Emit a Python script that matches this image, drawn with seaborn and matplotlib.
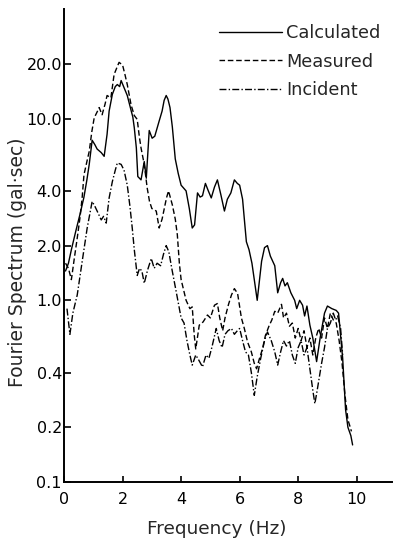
import numpy as np
import pandas as pd
import matplotlib
matplotlib.use("Agg")
import matplotlib.pyplot as plt
import seaborn as sns
from matplotlib.ticker import FixedLocator, FixedFormatter, NullLocator

# ---- data ----
calc_f = [0.05, 0.15, 0.25, 0.4, 0.55, 0.68, 0.78, 0.86, 0.96, 1.05, 1.13, 1.27, 1.37, 1.47, 1.54,
          1.65, 1.75, 1.82, 1.9, 1.95, 2.05, 2.16, 2.29, 2.35, 2.4, 2.47, 2.52, 2.63, 2.74, 2.81,
          2.91, 3.01, 3.1, 3.25, 3.35, 3.42, 3.49, 3.55, 3.62, 3.7, 3.8, 3.9, 4.0, 4.17, 4.28,
          4.38, 4.46, 4.56, 4.65, 4.73, 4.83, 4.93, 5.03, 5.14, 5.24, 5.36, 5.48, 5.58, 5.7, 5.82,
          5.92, 6.0, 6.1, 6.16, 6.23, 6.32, 6.42, 6.5, 6.6, 6.68, 6.75, 6.85, 6.95, 7.05, 7.2,
          7.3, 7.4, 7.47, 7.55, 7.63, 7.75, 7.88, 7.95, 8.05, 8.15, 8.22, 8.3, 8.4, 8.5, 8.63,
          8.75, 8.9, 9.0, 9.15, 9.3, 9.38, 9.52, 9.62, 9.7, 9.8, 9.86]
calc_v = [1.45, 1.6, 1.9, 2.4, 3.0, 3.7, 4.6, 5.6, 7.6, 7.2, 6.8, 6.5, 6.2, 8.2, 11.0,
          13.6, 15.0, 15.4, 15.0, 16.2, 14.8, 13.4, 11.1, 10.2, 8.9, 6.9, 4.8, 4.6, 5.8, 4.7,
          8.6, 7.8, 8.0, 9.7, 11.0, 12.6, 13.4, 12.8, 11.5, 9.0, 6.0, 5.0, 4.3, 4.0, 3.2,
          2.5, 2.6, 3.9, 3.7, 3.76, 4.4, 4.0, 3.66, 4.2, 4.6, 3.8, 3.1, 3.6, 3.9, 4.6,
          4.4, 4.3, 3.6, 2.8, 2.1, 1.9, 1.6, 1.3, 1.0, 1.3, 1.64, 1.95, 2.0, 1.75, 1.55,
          1.1, 1.25, 1.32, 1.2, 1.25, 1.1, 1.0, 0.9, 1.0, 0.94, 0.82, 0.93, 0.73, 0.62, 0.46,
          0.62, 0.85, 0.93, 0.9, 0.88, 0.85, 0.48, 0.25, 0.2, 0.18, 0.16]

meas_f = [0.05, 0.15, 0.25, 0.35, 0.45, 0.55, 0.62, 0.68, 0.78, 0.86, 0.95, 1.03, 1.12, 1.2, 1.3,
          1.4, 1.47, 1.6, 1.71, 1.8, 1.88, 2.0, 2.08, 2.16, 2.29, 2.4, 2.5, 2.57, 2.63, 2.74,
          2.84, 2.92, 3.0, 3.15, 3.25, 3.35, 3.5, 3.57, 3.7, 3.8, 3.87, 3.94, 4.0, 4.08, 4.17,
          4.3, 4.38, 4.45, 4.5, 4.62, 4.75, 4.9, 5.0, 5.14, 5.24, 5.32, 5.42, 5.5, 5.62, 5.72,
          5.82, 5.93, 6.06, 6.16, 6.27, 6.4, 6.5, 6.58, 6.68, 6.78, 6.88, 7.0, 7.1, 7.2, 7.3,
          7.43, 7.5, 7.6, 7.7, 7.8, 7.9, 8.0, 8.1, 8.2, 8.3, 8.4, 8.5, 8.6, 8.7, 8.8,
          8.9, 9.0, 9.1, 9.2, 9.3, 9.4, 9.5, 9.6, 9.7, 9.78, 9.82]
meas_v = [1.6, 1.5, 1.3, 1.7, 2.2, 2.9, 3.7, 4.9, 5.8, 6.6, 8.5, 10.1, 10.8, 11.5, 10.5,
          12.0, 13.4, 13.0, 17.5, 19.0, 20.4, 19.7, 17.5, 15.4, 11.9, 10.4, 9.9, 8.0, 6.9, 5.6,
          4.16, 3.5, 3.2, 3.1, 2.5, 2.8, 3.66, 4.0, 3.35, 2.8, 2.3, 1.6, 1.3, 1.15, 1.0,
          0.9, 0.92, 0.64, 0.54, 0.73, 0.76, 0.83, 0.8, 0.94, 0.96, 0.8, 0.68, 0.8, 0.95, 1.07,
          1.16, 1.09, 0.8, 0.7, 0.59, 0.52, 0.45, 0.42, 0.48, 0.54, 0.64, 0.72, 0.78, 0.87, 0.85,
          0.95, 0.8, 0.85, 0.72, 0.75, 0.62, 0.7, 0.6, 0.68, 0.55, 0.62, 0.5, 0.62, 0.7, 0.62,
          0.8, 0.7, 0.85, 0.78, 0.75, 0.6, 0.45, 0.3, 0.22, 0.2, 0.19]

inc_f = [0.1, 0.2, 0.3, 0.45, 0.62, 0.79, 0.96, 1.05, 1.13, 1.27, 1.35, 1.44, 1.54, 1.65, 1.75,
         1.82, 1.95, 2.05, 2.16, 2.25, 2.33, 2.4, 2.46, 2.5, 2.58, 2.66, 2.74, 2.85, 2.98, 3.08,
         3.18, 3.3, 3.4, 3.49, 3.58, 3.68, 3.83, 4.0, 4.1, 4.2, 4.3, 4.38, 4.5, 4.6, 4.73,
         4.85, 4.95, 5.05, 5.2, 5.3, 5.4, 5.5, 5.6, 5.72, 5.82, 5.92, 6.0, 6.1, 6.2, 6.3,
         6.4, 6.5, 6.6, 6.72, 6.85, 6.95, 7.08, 7.2, 7.3, 7.4, 7.5, 7.6, 7.7, 7.8, 7.9,
         8.0, 8.1, 8.2, 8.3, 8.4, 8.5, 8.57, 8.65, 8.8, 8.9, 9.0, 9.1, 9.2, 9.28, 9.35,
         9.45, 9.52]
inc_v = [0.9, 0.65, 0.85, 1.07, 1.64, 2.5, 3.5, 3.3, 3.1, 2.77, 2.9, 2.66, 3.66, 4.5, 5.2,
         5.7, 5.6, 5.2, 4.3, 3.3, 2.5, 1.9, 1.56, 1.37, 1.5, 1.45, 1.24, 1.46, 1.7, 1.5,
         1.6, 1.55, 1.8, 2.0, 1.85, 1.5, 1.12, 0.8, 0.75, 0.6, 0.5, 0.44, 0.5, 0.47, 0.43,
         0.5, 0.48, 0.55, 0.7, 0.6, 0.55, 0.65, 0.68, 0.7, 0.65, 0.68, 0.7, 0.6, 0.52, 0.5,
         0.4, 0.3, 0.38, 0.48, 0.6, 0.67, 0.6, 0.52, 0.44, 0.52, 0.6, 0.56, 0.6, 0.5, 0.45,
         0.55, 0.6, 0.5, 0.55, 0.42, 0.32, 0.27, 0.32, 0.45, 0.55, 0.7, 0.75, 0.85, 0.78, 0.82,
         0.7, 0.5]

series_names = ["Calculated", "Measured", "Incident"]
y_ticks = [0.1, 0.2, 0.4, 1.0, 2.0, 4.0, 10.0, 20.0]
y_tick_labels = ["0.1", "0.2", "0.4", "1.0", "2.0", "4.0", "10.0", "20.0"]
x_ticks = [0, 2, 4, 6, 8, 10]

# ---- plotting ----
sns.set_style("ticks")
plt.rcParams['font.family'] = ['DejaVu Sans']

fig = plt.figure(figsize=(3.93, 5.41), dpi=100)
ax = fig.add_axes([0.163, 0.109, 0.834, 0.874])

styles = ["-", (0, (4, 2)), (0, (5, 1.6, 1, 1.6))]
for name, fx, vy, ls in zip(series_names, [calc_f, meas_f, inc_f], [calc_v, meas_v, inc_v], styles):
    df = pd.DataFrame({"f": fx, "v": vy})
    sns.lineplot(data=df, x="f", y="v", ax=ax, color="black", lw=1.0,
                 linestyle=ls, estimator=None, sort=False, label=name)

ax.set_yscale("log")
ax.set_ylim(0.1, 40)
ax.set_xlim(0, 11.2)
ax.yaxis.set_major_locator(FixedLocator(y_ticks))
ax.yaxis.set_major_formatter(FixedFormatter(y_tick_labels))
ax.yaxis.set_minor_locator(NullLocator())
ax.set_xticks(x_ticks)
ax.set_xticklabels([str(t) for t in x_ticks])

for s in ["top", "right"]:
    ax.spines[s].set_visible(False)
for s in ["left", "bottom"]:
    ax.spines[s].set_linewidth(1.4)
    ax.spines[s].set_color("black")

ax.tick_params(axis="y", direction="in", length=5, width=1.2, labelsize=11.5, pad=1.5, colors="black")
ax.tick_params(axis="x", direction="in", length=4, width=1.2, labelsize=11.5, pad=7, colors="black")

ax.set_xlabel("Frequency (Hz)", fontsize=13.3)
ax.set_ylabel("Fourier Spectrum (gal·sec)", fontsize=13.5)
ax.xaxis.set_label_coords(0.465, -0.08)
ax.yaxis.set_label_coords(-0.112, 0.465)

leg = ax.legend(loc="upper right", bbox_to_anchor=(0.988, 0.983), frameon=False, fontsize=12.8,
                handlelength=3.55, handletextpad=0.25, labelspacing=0.58, borderaxespad=0)

fig.savefig("out.png", dpi=100, facecolor="white")
